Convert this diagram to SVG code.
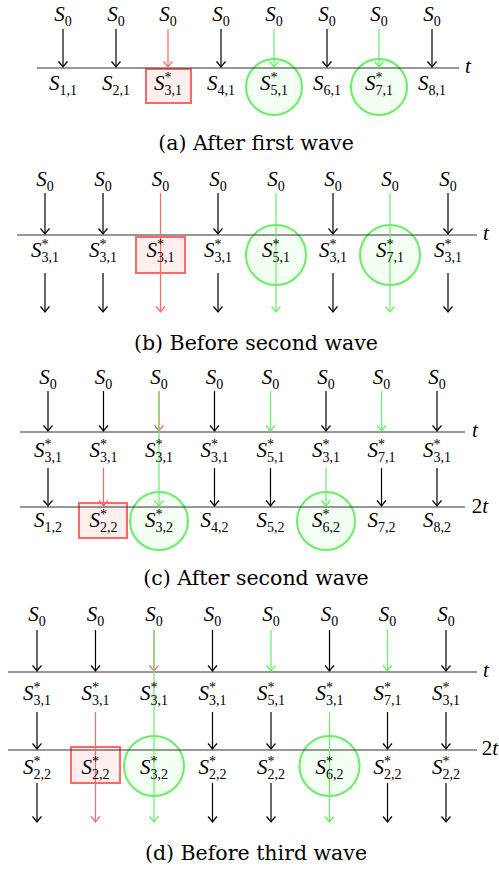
<svg xmlns="http://www.w3.org/2000/svg" width="499" height="870" viewBox="0 0 499 870">
<style>
.s{font-family:"Liberation Serif","DejaVu Serif",serif;font-style:italic;font-size:21px;fill:#000}
.b{font-style:normal;font-size:14px}
.cap{font-family:"DejaVu Serif","Liberation Serif",serif;font-size:20.5px;fill:#000}
.ax{stroke:#333;stroke-width:1.1}
.k{stroke:#000;stroke-width:1.2;marker-end:url(#mk)}
.r{stroke:#ff6666;stroke-width:1.2;marker-end:url(#mr)}
.g{stroke:#66ee66;stroke-width:1.2;marker-end:url(#mg)}
.box{fill:#ff6666;fill-opacity:0.1;stroke:#ff6666;stroke-width:2}
.cir{fill:#66ff66;fill-opacity:0.08;stroke:#66ee66;stroke-width:2}
</style>
<defs>
<marker id="mk" viewBox="-7 -6 8 12" markerWidth="8" markerHeight="12" refX="0" refY="0" orient="auto" markerUnits="userSpaceOnUse"><path d="M-5.5,-4.5 Q-1.5,-1 0,0 Q-1.5,1 -5.5,4.5" fill="none" stroke="#000" stroke-width="1.2"/></marker>
<marker id="mr" viewBox="-7 -6 8 12" markerWidth="8" markerHeight="12" refX="0" refY="0" orient="auto" markerUnits="userSpaceOnUse"><path d="M-5.5,-4.5 Q-1.5,-1 0,0 Q-1.5,1 -5.5,4.5" fill="none" stroke="#ff6666" stroke-width="1.2"/></marker>
<marker id="mg" viewBox="-7 -6 8 12" markerWidth="8" markerHeight="12" refX="0" refY="0" orient="auto" markerUnits="userSpaceOnUse"><path d="M-5.5,-4.5 Q-1.5,-1 0,0 Q-1.5,1 -5.5,4.5" fill="none" stroke="#66ee66" stroke-width="1.2"/></marker>
</defs>
<rect width="499" height="870" fill="#fff"/>

<g id="highlights">
<rect class="box" x="146" y="69" width="45" height="34"/>
<circle class="cir" cx="274" cy="87" r="28"/>
<circle class="cir" cx="379" cy="87" r="28"/>
<rect class="box" x="136" y="237" width="49" height="36"/>
<circle class="cir" cx="276" cy="255" r="30"/>
<circle class="cir" cx="390" cy="255" r="30"/>
<rect class="box" x="79" y="503" width="48" height="35"/>
<circle class="cir" cx="159" cy="521" r="29"/>
<circle class="cir" cx="326" cy="521" r="29"/>
<rect class="box" x="71" y="747" width="49" height="36"/>
<circle class="cir" cx="154" cy="766" r="30"/>
<circle class="cir" cx="329.5" cy="766" r="30"/>
</g>

<g id="connectors">
<line class="ax" x1="37" y1="68" x2="459" y2="68"/>
<line class="k" x1="63" y1="29" x2="63" y2="67"/>
<line class="k" x1="116" y1="29" x2="116" y2="67"/>
<line class="r" x1="168" y1="29" x2="168" y2="67"/>
<line class="k" x1="221" y1="29" x2="221" y2="67"/>
<line class="g" x1="274" y1="29" x2="274" y2="67"/>
<line class="k" x1="327" y1="29" x2="327" y2="67"/>
<line class="g" x1="379" y1="29" x2="379" y2="67"/>
<line class="k" x1="432" y1="29" x2="432" y2="67"/>
<line class="ax" x1="17" y1="235" x2="477" y2="235"/>
<line class="k" x1="45" y1="193" x2="45" y2="234"/>
<line class="k" x1="103" y1="193" x2="103" y2="234"/>
<line class="k" x1="218" y1="193" x2="218" y2="234"/>
<line class="k" x1="333" y1="193" x2="333" y2="234"/>
<line class="k" x1="448" y1="193" x2="448" y2="234"/>
<line class="k" x1="45" y1="273" x2="45" y2="312"/>
<line class="k" x1="103" y1="273" x2="103" y2="312"/>
<line class="k" x1="218" y1="273" x2="218" y2="312"/>
<line class="k" x1="333" y1="273" x2="333" y2="312"/>
<line class="k" x1="448" y1="273" x2="448" y2="312"/>
<line class="r" x1="160.5" y1="193" x2="160.5" y2="312"/>
<line class="g" x1="276" y1="193" x2="276" y2="312"/>
<line class="g" x1="390" y1="193" x2="390" y2="312"/>
<line class="ax" x1="20" y1="432" x2="465" y2="432"/>
<line class="ax" x1="20" y1="507" x2="465" y2="507"/>
<line class="k" x1="48" y1="391" x2="48" y2="431"/>
<line class="k" x1="103.5" y1="391" x2="103.5" y2="431"/>
<line class="k" x1="214.5" y1="391" x2="214.5" y2="431"/>
<line class="k" x1="326" y1="391" x2="326" y2="431"/>
<line class="k" x1="437" y1="391" x2="437" y2="431"/>
<line class="r" x1="159" y1="391" x2="159" y2="431"/>
<line class="g" x1="159" y1="391" x2="159" y2="506"/>
<line class="g" x1="270.5" y1="391" x2="270.5" y2="431"/>
<line class="g" x1="381.5" y1="391" x2="381.5" y2="431"/>
<line class="k" x1="48" y1="468" x2="48" y2="506"/>
<line class="r" x1="103.5" y1="468" x2="103.5" y2="506"/>
<line class="k" x1="214.5" y1="468" x2="214.5" y2="506"/>
<line class="k" x1="270.5" y1="468" x2="270.5" y2="506"/>
<line class="g" x1="326" y1="468" x2="326" y2="506"/>
<line class="k" x1="381.5" y1="468" x2="381.5" y2="506"/>
<line class="k" x1="437" y1="468" x2="437" y2="506"/>
<line class="ax" x1="8" y1="672" x2="477" y2="672"/>
<line class="ax" x1="8" y1="750" x2="477" y2="750"/>
<line class="k" x1="37" y1="630" x2="37" y2="671"/>
<line class="k" x1="95.5" y1="630" x2="95.5" y2="671"/>
<line class="k" x1="212.5" y1="630" x2="212.5" y2="671"/>
<line class="k" x1="329.5" y1="630" x2="329.5" y2="671"/>
<line class="k" x1="446" y1="630" x2="446" y2="671"/>
<line class="r" x1="154" y1="630" x2="154" y2="671"/>
<line class="g" x1="154" y1="630" x2="154" y2="822"/>
<line class="g" x1="271" y1="630" x2="271" y2="671"/>
<line class="g" x1="387.5" y1="630" x2="387.5" y2="671"/>
<line class="k" x1="37" y1="712" x2="37" y2="749"/>
<line class="r" x1="95.5" y1="712" x2="95.5" y2="822"/>
<line class="k" x1="212.5" y1="712" x2="212.5" y2="749"/>
<line class="k" x1="271" y1="712" x2="271" y2="749"/>
<line class="g" x1="329.5" y1="712" x2="329.5" y2="822"/>
<line class="k" x1="387.5" y1="712" x2="387.5" y2="749"/>
<line class="k" x1="446" y1="712" x2="446" y2="749"/>
<line class="k" x1="37" y1="783" x2="37" y2="822"/>
<line class="k" x1="212.5" y1="783" x2="212.5" y2="822"/>
<line class="k" x1="271" y1="783" x2="271" y2="822"/>
<line class="k" x1="387.5" y1="783" x2="387.5" y2="822"/>
<line class="k" x1="446" y1="783" x2="446" y2="822"/>
</g>

<g id="panel-a" class="s" text-anchor="middle">
<g id="a-s0"><text x="63" y="21">S<tspan class="b" dy="4.5">0</tspan></text><text x="116" y="21">S<tspan class="b" dy="4.5">0</tspan></text><text x="168" y="21">S<tspan class="b" dy="4.5">0</tspan></text><text x="221" y="21">S<tspan class="b" dy="4.5">0</tspan></text><text x="274" y="21">S<tspan class="b" dy="4.5">0</tspan></text><text x="327" y="21">S<tspan class="b" dy="4.5">0</tspan></text><text x="379" y="21">S<tspan class="b" dy="4.5">0</tspan></text><text x="432" y="21">S<tspan class="b" dy="4.5">0</tspan></text></g>
<g id="a-row1">
<text x="63" y="90">S<tspan class="b" dy="4.5">1,1</tspan></text>
<text x="116" y="90">S<tspan class="b" dy="4.5">2,1</tspan></text>
<text x="168" y="90">S<tspan class="b" dy="-8">*</tspan><tspan class="b" dx="-7" dy="12.5">3,1</tspan></text>
<text x="221" y="90">S<tspan class="b" dy="4.5">4,1</tspan></text>
<text x="274" y="90">S<tspan class="b" dy="-8">*</tspan><tspan class="b" dx="-7" dy="12.5">5,1</tspan></text>
<text x="327" y="90">S<tspan class="b" dy="4.5">6,1</tspan></text>
<text x="379" y="90">S<tspan class="b" dy="-8">*</tspan><tspan class="b" dx="-7" dy="12.5">7,1</tspan></text>
<text x="432" y="90">S<tspan class="b" dy="4.5">8,1</tspan></text>
</g>
<text x="468" y="73">t</text>
</g>

<g id="panel-b" class="s" text-anchor="middle">
<g id="b-s0"><text x="45" y="186">S<tspan class="b" dy="4.5">0</tspan></text><text x="103" y="186">S<tspan class="b" dy="4.5">0</tspan></text><text x="160.5" y="186">S<tspan class="b" dy="4.5">0</tspan></text><text x="218" y="186">S<tspan class="b" dy="4.5">0</tspan></text><text x="276" y="186">S<tspan class="b" dy="4.5">0</tspan></text><text x="333" y="186">S<tspan class="b" dy="4.5">0</tspan></text><text x="390" y="186">S<tspan class="b" dy="4.5">0</tspan></text><text x="448" y="186">S<tspan class="b" dy="4.5">0</tspan></text></g>
<g id="b-row1">
<text x="45" y="257">S<tspan class="b" dy="-8">*</tspan><tspan class="b" dx="-7" dy="12.5">3,1</tspan></text>
<text x="103" y="257">S<tspan class="b" dy="-8">*</tspan><tspan class="b" dx="-7" dy="12.5">3,1</tspan></text>
<text x="160.5" y="257">S<tspan class="b" dy="-8">*</tspan><tspan class="b" dx="-7" dy="12.5">3,1</tspan></text>
<text x="218" y="257">S<tspan class="b" dy="-8">*</tspan><tspan class="b" dx="-7" dy="12.5">3,1</tspan></text>
<text x="276" y="257">S<tspan class="b" dy="-8">*</tspan><tspan class="b" dx="-7" dy="12.5">5,1</tspan></text>
<text x="333" y="257">S<tspan class="b" dy="-8">*</tspan><tspan class="b" dx="-7" dy="12.5">3,1</tspan></text>
<text x="390" y="257">S<tspan class="b" dy="-8">*</tspan><tspan class="b" dx="-7" dy="12.5">7,1</tspan></text>
<text x="448" y="257">S<tspan class="b" dy="-8">*</tspan><tspan class="b" dx="-7" dy="12.5">3,1</tspan></text>
</g>
<text x="486" y="240">t</text>
</g>

<g id="panel-c" class="s" text-anchor="middle">
<g id="c-s0"><text x="48" y="384">S<tspan class="b" dy="4.5">0</tspan></text><text x="103.5" y="384">S<tspan class="b" dy="4.5">0</tspan></text><text x="159" y="384">S<tspan class="b" dy="4.5">0</tspan></text><text x="214.5" y="384">S<tspan class="b" dy="4.5">0</tspan></text><text x="270.5" y="384">S<tspan class="b" dy="4.5">0</tspan></text><text x="326" y="384">S<tspan class="b" dy="4.5">0</tspan></text><text x="381.5" y="384">S<tspan class="b" dy="4.5">0</tspan></text><text x="437" y="384">S<tspan class="b" dy="4.5">0</tspan></text></g>
<g id="c-row1">
<text x="48" y="457">S<tspan class="b" dy="-8">*</tspan><tspan class="b" dx="-7" dy="12.5">3,1</tspan></text>
<text x="103.5" y="457">S<tspan class="b" dy="-8">*</tspan><tspan class="b" dx="-7" dy="12.5">3,1</tspan></text>
<text x="159" y="457">S<tspan class="b" dy="-8">*</tspan><tspan class="b" dx="-7" dy="12.5">3,1</tspan></text>
<text x="214.5" y="457">S<tspan class="b" dy="-8">*</tspan><tspan class="b" dx="-7" dy="12.5">3,1</tspan></text>
<text x="270.5" y="457">S<tspan class="b" dy="-8">*</tspan><tspan class="b" dx="-7" dy="12.5">5,1</tspan></text>
<text x="326" y="457">S<tspan class="b" dy="-8">*</tspan><tspan class="b" dx="-7" dy="12.5">3,1</tspan></text>
<text x="381.5" y="457">S<tspan class="b" dy="-8">*</tspan><tspan class="b" dx="-7" dy="12.5">7,1</tspan></text>
<text x="437" y="457">S<tspan class="b" dy="-8">*</tspan><tspan class="b" dx="-7" dy="12.5">3,1</tspan></text>
</g>
<g id="c-row2">
<text x="48" y="527">S<tspan class="b" dy="4.5">1,2</tspan></text>
<text x="103.5" y="527">S<tspan class="b" dy="-8">*</tspan><tspan class="b" dx="-7" dy="12.5">2,2</tspan></text>
<text x="159" y="527">S<tspan class="b" dy="-8">*</tspan><tspan class="b" dx="-7" dy="12.5">3,2</tspan></text>
<text x="214.5" y="527">S<tspan class="b" dy="4.5">4,2</tspan></text>
<text x="270.5" y="527">S<tspan class="b" dy="4.5">5,2</tspan></text>
<text x="326" y="527">S<tspan class="b" dy="-8">*</tspan><tspan class="b" dx="-7" dy="12.5">6,2</tspan></text>
<text x="381.5" y="527">S<tspan class="b" dy="4.5">7,2</tspan></text>
<text x="437" y="527">S<tspan class="b" dy="4.5">8,2</tspan></text>
</g>
<text x="475" y="437">t</text>
<text x="480" y="513"><tspan font-style="normal">2</tspan>t</text>
</g>

<g id="panel-d" class="s" text-anchor="middle">
<g id="d-s0"><text x="37" y="621">S<tspan class="b" dy="4.5">0</tspan></text><text x="95.5" y="621">S<tspan class="b" dy="4.5">0</tspan></text><text x="154" y="621">S<tspan class="b" dy="4.5">0</tspan></text><text x="212.5" y="621">S<tspan class="b" dy="4.5">0</tspan></text><text x="271" y="621">S<tspan class="b" dy="4.5">0</tspan></text><text x="329.5" y="621">S<tspan class="b" dy="4.5">0</tspan></text><text x="387.5" y="621">S<tspan class="b" dy="4.5">0</tspan></text><text x="446" y="621">S<tspan class="b" dy="4.5">0</tspan></text></g>
<g id="d-row1">
<text x="37" y="700">S<tspan class="b" dy="-8">*</tspan><tspan class="b" dx="-7" dy="12.5">3,1</tspan></text>
<text x="95.5" y="700">S<tspan class="b" dy="-8">*</tspan><tspan class="b" dx="-7" dy="12.5">3,1</tspan></text>
<text x="154" y="700">S<tspan class="b" dy="-8">*</tspan><tspan class="b" dx="-7" dy="12.5">3,1</tspan></text>
<text x="212.5" y="700">S<tspan class="b" dy="-8">*</tspan><tspan class="b" dx="-7" dy="12.5">3,1</tspan></text>
<text x="271" y="700">S<tspan class="b" dy="-8">*</tspan><tspan class="b" dx="-7" dy="12.5">5,1</tspan></text>
<text x="329.5" y="700">S<tspan class="b" dy="-8">*</tspan><tspan class="b" dx="-7" dy="12.5">3,1</tspan></text>
<text x="387.5" y="700">S<tspan class="b" dy="-8">*</tspan><tspan class="b" dx="-7" dy="12.5">7,1</tspan></text>
<text x="446" y="700">S<tspan class="b" dy="-8">*</tspan><tspan class="b" dx="-7" dy="12.5">3,1</tspan></text>
</g>
<g id="d-row2">
<text x="37" y="774">S<tspan class="b" dy="-8">*</tspan><tspan class="b" dx="-7" dy="12.5">2,2</tspan></text>
<text x="95.5" y="774">S<tspan class="b" dy="-8">*</tspan><tspan class="b" dx="-7" dy="12.5">2,2</tspan></text>
<text x="154" y="774">S<tspan class="b" dy="-8">*</tspan><tspan class="b" dx="-7" dy="12.5">3,2</tspan></text>
<text x="212.5" y="774">S<tspan class="b" dy="-8">*</tspan><tspan class="b" dx="-7" dy="12.5">2,2</tspan></text>
<text x="271" y="774">S<tspan class="b" dy="-8">*</tspan><tspan class="b" dx="-7" dy="12.5">2,2</tspan></text>
<text x="329.5" y="774">S<tspan class="b" dy="-8">*</tspan><tspan class="b" dx="-7" dy="12.5">6,2</tspan></text>
<text x="387.5" y="774">S<tspan class="b" dy="-8">*</tspan><tspan class="b" dx="-7" dy="12.5">2,2</tspan></text>
<text x="446" y="774">S<tspan class="b" dy="-8">*</tspan><tspan class="b" dx="-7" dy="12.5">2,2</tspan></text>
</g>
<text x="486" y="677">t</text>
<text x="490" y="755"><tspan font-style="normal">2</tspan>t</text>
</g>

<g id="captions" class="cap" text-anchor="middle">
<text x="256" y="150">(a) After first wave</text>
<text x="256" y="350">(b) Before second wave</text>
<text x="256" y="585">(c) After second wave</text>
<text x="256" y="860">(d) Before third wave</text>
</g>
</svg>
